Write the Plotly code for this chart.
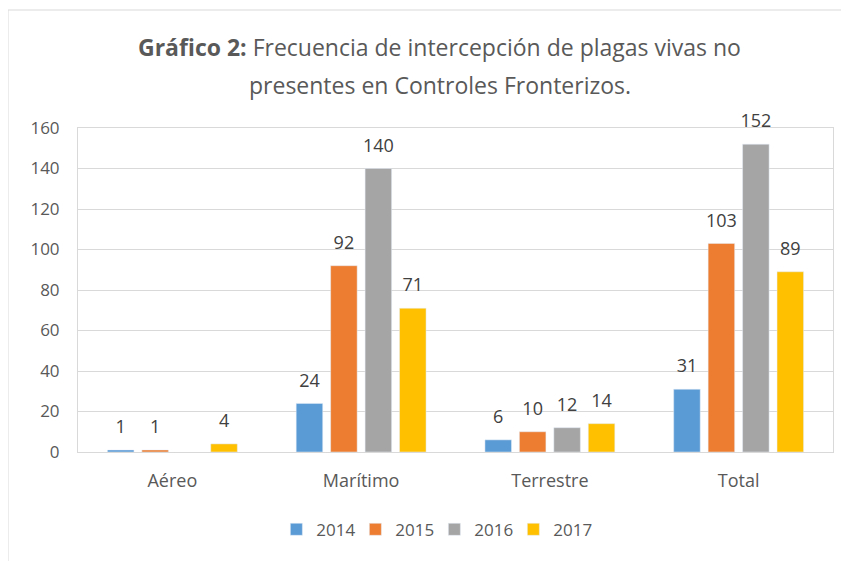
import plotly.graph_objs as go

categorias = ["Aéreo", "Marítimo", "Terrestre", "Total"]
anios = ["2014", "2015", "2016", "2017"]
v2014 = [1, 24, 6, 31]
v2015 = [1, 92, 10, 103]
v2016 = [None, 140, 12, 152]
v2017 = [4, 71, 14, 89]
colores = ["#5B9BD5", "#ED7D31", "#A5A5A5", "#FFC000"]

fuente = "Open Sans, Liberation Sans, sans-serif"

fig = go.Figure()
for anio, vals, col in zip(anios, [v2014, v2015, v2016, v2017], colores):
    fig.add_trace(go.Bar(x=categorias, y=vals, name=anio, marker=dict(color=col)))
# etiquetas de datos (scatter agrupado para separarlas un poco mas de la barra)
for anio, vals in zip(anios, [v2014, v2015, v2016, v2017]):
    fig.add_trace(go.Scatter(
        x=categorias, y=vals, mode="markers+text", showlegend=False, hoverinfo="skip",
        text=["" if v is None else str(v) for v in vals], textposition="top center",
        marker=dict(size=18, opacity=0), cliponaxis=False,
        textfont=dict(size=18, color="#404040", family=fuente),
    ))

# ancho 841 / alto 553 porque la pagina tiene 8px de margen
fig.update_layout(
    width=841, height=553,
    margin=dict(l=70, r=16, t=120, b=109),
    paper_bgcolor="white", plot_bgcolor="white",
    barmode="group", bargap=0.27, bargroupgap=0.23,
    scattermode="group", scattergap=0.27,
    font=dict(family=fuente, color="#595959"),
    legend=dict(orientation="h", x=0.472, xanchor="center", y=-0.24, yanchor="middle",
                font=dict(size=17, color="#595959"), traceorder="normal",
                entrywidth=34, entrywidthmode="pixels"),
    showlegend=True,
)
# titulo en dos anotaciones para controlar el interlineado
fig.add_annotation(xref="paper", yref="paper", x=0.479, y=1 + 81 / 324, yanchor="middle",
                   showarrow=False, text="<b>Gráfico 2:</b> Frecuencia de intercepción de plagas vivas no",
                   font=dict(size=23, color="#595959"))
fig.add_annotation(xref="paper", yref="paper", x=0.479, y=1 + 43 / 324, yanchor="middle",
                   showarrow=False, text="presentes en Controles Fronterizos.",
                   font=dict(size=23, color="#595959"))
fig.update_yaxes(range=[0, 160], dtick=20, gridcolor="#D9D9D9", gridwidth=1,
                 zeroline=False, showline=True, linecolor="#D9D9D9", mirror=True,
                 tickfont=dict(size=17, color="#595959"), ticks="", ticklabelstandoff=14)
fig.update_xaxes(showline=True, linecolor="#D9D9D9", mirror=True,
                 tickfont=dict(size=18, color="#595959"), ticks="", ticklabelstandoff=12)

# borde del grafico
fig.add_shape(type="rect", xref="paper", yref="paper",
              x0=-70 / 755, x1=1 + 15 / 755, y0=-1.6, y1=1 + 118 / 324,
              line=dict(color="#D9D9D9", width=1))
fig.write_html("out.html")
